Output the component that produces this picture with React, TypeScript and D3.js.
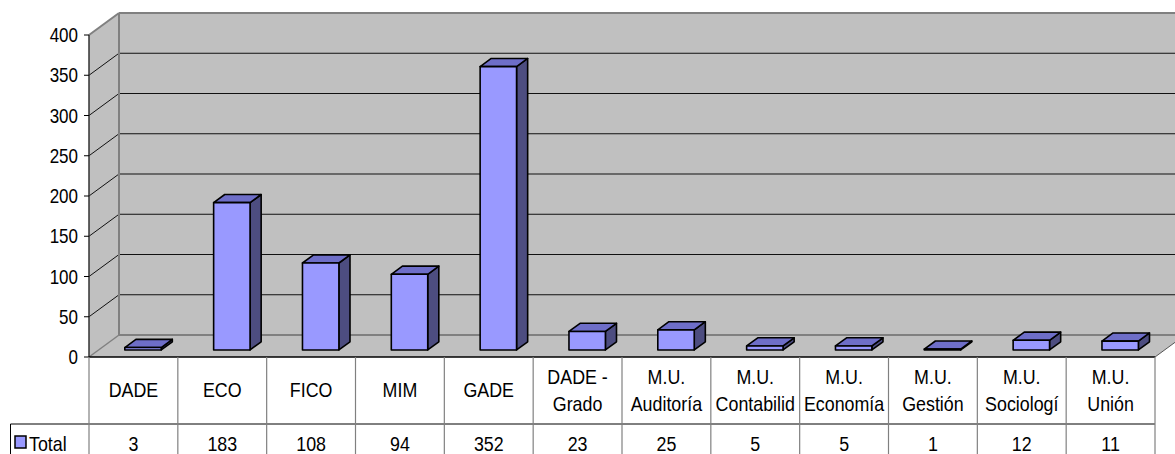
import * as d3 from 'd3';

const categories = ['DADE', 'ECO', 'FICO', 'MIM', 'GADE', 'DADE -\nGrado', 'M.U.\nAuditoría', 'M.U.\nContabilid', 'M.U.\nEconomía', 'M.U.\nGestión', 'M.U.\nSociologí', 'M.U.\nUnión'];
const totals = [3, 183, 108, 94, 352, 23, 25, 5, 5, 1, 12, 11];
const yTicks = [0, 50, 100, 150, 200, 250, 300, 350, 400];
const seriesName = 'Total';

const W = 1175;
const H = 454;
const FONT = 'Liberation Sans, Arial, sans-serif';

function Label({ x, y, anchor = 'middle', size = 21, children }: any) {
    return (
        <text
            transform={`translate(${x},${y}) scale(0.85,1)`}
            textAnchor={anchor}
            fontSize={size}
            fontFamily={FONT}
            fill="#000"
        >
            {children}
        </text>
    );
}

export default function App() {
    const left = 89;
    const right = 1155;
    const depthX = 30;
    const depthY = -22;
    const y = d3.scaleLinear().domain([0, 400]).range([357, 35]);
    const x = d3.scaleBand<number>()
        .domain(d3.range(categories.length))
        .range([left, right])
        .paddingInner(0.59)
        .paddingOuter(0.295);
    const step = x.step();
    const yBot = y(0);
    const yTop = y(400);

    // bars sit between these depth fractions
    const fFront = 0.32;
    const fBack = 0.69;
    const off = (f: number) => [depthX * f, depthY * f];

    const wall = '#c0c0c0';
    const edge = '#808080';

    const rowTop = yBot;
    const rowMid = 424;
    const rowBot = 470;

    return (
        <svg width={W} height={H} style={{ position: 'absolute', left: 0, top: 0, background: '#fff' }}>
            {/* left side wall */}
            <polygon
                points={`${left},${yBot} ${left + depthX},${yBot + depthY} ${left + depthX},${yTop + depthY} ${left},${yTop}`}
                fill={wall}
            />
            {/* back wall */}
            <rect x={left + depthX} y={yTop + depthY} width={right - left + 10} height={yBot - yTop} fill={wall} />
            {/* floor */}
            <polygon
                points={`${left},${yBot} ${left + depthX},${yBot + depthY} ${right + depthX},${yBot + depthY} ${right},${yBot}`}
                fill={wall}
            />

            {/* gridlines */}
            {yTicks.filter(t => t > 0 && t < 400).map(t => (
                <g key={t}>
                    <line x1={left + depthX} x2={W} y1={y(t) + depthY} y2={y(t) + depthY} stroke="#111" strokeWidth={1} />
                    <line x1={left} x2={left + depthX} y1={y(t)} y2={y(t) + depthY} stroke="#111" strokeWidth={1} />
                </g>
            ))}

            {/* wall edges */}
            <line x1={left + depthX} x2={W} y1={yTop + depthY} y2={yTop + depthY} stroke={edge} strokeWidth={2} />
            <line x1={left} x2={left + depthX} y1={yTop} y2={yTop + depthY} stroke={edge} strokeWidth={2} />
            <line x1={left + depthX} x2={left + depthX} y1={yTop + depthY} y2={yBot + depthY} stroke={edge} strokeWidth={2} />
            <line x1={left + depthX} x2={W} y1={yBot + depthY} y2={yBot + depthY} stroke={edge} strokeWidth={2} />
            <line x1={left} x2={left + depthX} y1={yBot} y2={yBot + depthY} stroke={edge} strokeWidth={1.5} />
            <line x1={right} x2={right + depthX} y1={yBot} y2={yBot + depthY} stroke="#555" strokeWidth={1} />

            {/* bars */}
            {totals.map((v, i) => {
                const [fx, fy] = off(fFront);
                const [bx, by] = off(fBack);
                const x0 = (x(i) as number) + fx;
                const x1 = x0 + x.bandwidth();
                const yb = yBot + fy;
                const yt = y(v) + fy;
                const ddx = bx - fx;
                const ddy = by - fy;
                return (
                    <g key={i} stroke="#000" strokeWidth={1.6} strokeLinejoin="round">
                        <polygon points={`${x1},${yb} ${x1 + ddx},${yb + ddy} ${x1 + ddx},${yt + ddy} ${x1},${yt}`} fill="#4d4d80" />
                        <polygon points={`${x0},${yt} ${x0 + ddx},${yt + ddy} ${x1 + ddx},${yt + ddy} ${x1},${yt}`} fill="#6e6ec8" />
                        <rect x={x0} y={yt} width={x1 - x0} height={yb - yt} fill="#9999ff" />
                    </g>
                );
            })}

            {/* value axis */}
            <line x1={left} x2={left} y1={yTop} y2={yBot} stroke="#333" strokeWidth={1.5} />
            {yTicks.map(t => (
                <g key={t}>
                    <line x1={left - 5} x2={left} y1={y(t)} y2={y(t)} stroke="#000" strokeWidth={1} />
                    <Label x={left - 11} y={y(t) + 7} anchor="end" size={20}>{t}</Label>
                </g>
            ))}

            {/* data table */}
            <line x1={left} x2={right} y1={rowTop} y2={rowTop} stroke="#000" strokeWidth={1.5} />
            <line x1={10.5} x2={right} y1={rowMid} y2={rowMid} stroke="#000" strokeWidth={1} />
            <line x1={10.5} x2={10.5} y1={rowMid} y2={rowBot} stroke="#000" strokeWidth={1} />
            {d3.range(categories.length + 1).map(i => (
                <line key={i} x1={left + i * step} x2={left + i * step} y1={rowTop} y2={rowBot} stroke={edge} strokeWidth={1.2} />
            ))}
            {categories.map((c, i) => {
                const cx = left + (i + 0.5) * step;
                const lines = c.split('\n');
                if (lines.length === 1) {
                    return <Label key={i} x={cx} y={397}>{c}</Label>;
                }
                return (
                    <g key={i}>
                        <Label x={cx} y={384}>{lines[0]}</Label>
                        <Label x={cx} y={411}>{lines[1]}</Label>
                    </g>
                );
            })}
            {totals.map((v, i) => (
                <Label key={i} x={left + (i + 0.5) * step} y={451}>{v}</Label>
            ))}

            {/* legend key */}
            <rect x={15} y={436} width={11} height={12} fill="#9999ff" stroke="#000" strokeWidth={1.5} />
            <Label x={29} y={451} anchor="start">{seriesName}</Label>
        </svg>
    );
}
